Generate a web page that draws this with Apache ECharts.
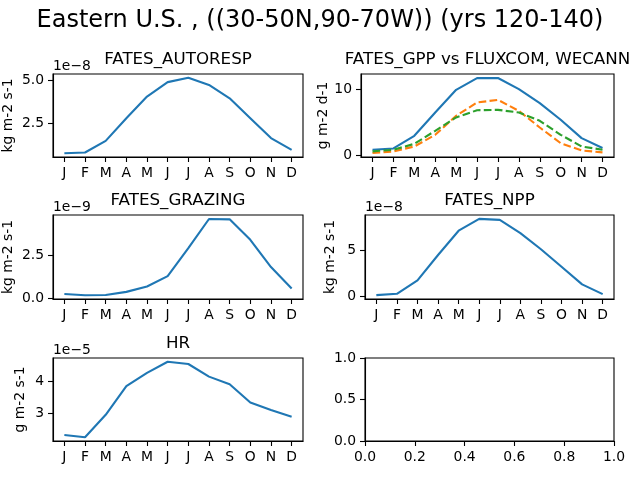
<!DOCTYPE html>
<html>
<head>
<meta charset="utf-8">
<script src="https://cdn.jsdelivr.net/npm/echarts@6/dist/echarts.min.js"></script>
<style>
  html, body { margin: 0; padding: 0; background: #fff; }
  #chart { width: 640px; height: 480px; }
</style>
</head>
<body>
<div id="chart"></div>
<script>
// monthly climatology, Eastern U.S.
const months = ['J', 'F', 'M', 'A', 'M', 'J', 'J', 'A', 'S', 'O', 'N', 'D'];

// FATES_AUTORESP (x 1e-8 kg m-2 s-1)
const autoresp = [0.77, 0.81, 1.48, 2.79, 4.04, 4.87, 5.12, 4.71, 3.94, 2.79, 1.64, 0.96];
const autorespTicks = [2.5, 5.0];

// GPP (g m-2 d-1)
const gppFates = [0.8, 1.0, 2.92, 6.45, 9.9, 11.67, 11.7, 10.0, 7.88, 5.35, 2.57, 1.06];
const gppFluxcom = [0.3, 0.55, 1.3, 3.07, 5.95, 7.97, 8.38, 6.7, 4.18, 1.8, 0.7, 0.4];
const gppWecann = [0.55, 0.8, 1.7, 3.68, 5.7, 6.8, 6.86, 6.45, 5.2, 3.07, 1.3, 0.8];
const gppTicks = [0, 10];

// FATES_GRAZING (x 1e-9 kg m-2 s-1)
const grazing = [0.27, 0.2, 0.21, 0.39, 0.7, 1.3, 2.91, 4.59, 4.57, 3.39, 1.82, 0.58];
const grazingTicks = [0.0, 2.5];

// FATES_NPP (x 1e-8 kg m-2 s-1)
const npp = [0.15, 0.3, 1.76, 4.52, 7.17, 8.46, 8.35, 6.91, 5.15, 3.24, 1.32, 0.26];
const nppTicks = [0, 5];

// HR (x 1e-5 g m-2 s-1)
const hr = [2.31, 2.24, 2.95, 3.86, 4.28, 4.63, 4.56, 4.16, 3.92, 3.34, 3.1, 2.89];
const hrTicks = [3, 4];

// empty panel
const emptyTicksY = [0.0, 0.5, 1.0];
const emptyTicksX = [0.0, 0.2, 0.4, 0.6, 0.8, 1.0];

const FONT = 'DejaVu Sans';
const TICK = 13.9;
const BLUE = '#1f77b4', ORANGE = '#ff7f0e', GREEN = '#2ca02c';

const monthIdx = months.map((m, i) => i);
const pairs = arr => arr.map((v, i) => [i, v]);

const grids = [
    {left: 53, top: 74, width: 250, height: 83},
    {left: 361, top: 74, width: 253, height: 83},
    {left: 53, top: 215, width: 250, height: 84},
    {left: 365, top: 215, width: 249, height: 84},
    {left: 53, top: 358, width: 250, height: 83},
    {left: 365, top: 358, width: 249, height: 83}
];

const tickStyle = {show: true, inside: false, length: 5, lineStyle: {color: '#000', width: 1.1}};
const lineStyle = {show: true, onZero: false, lineStyle: {color: '#000', width: 1.1}};

function monthAxis(gi) {
    return {
        type: 'value', gridIndex: gi, min: -0.55, max: 11.55,
        splitLine: {show: false},
        axisLine: lineStyle,
        axisTick: Object.assign({customValues: monthIdx}, tickStyle),
        axisLabel: {
            customValues: monthIdx, margin: 9, color: '#000', fontFamily: FONT, fontSize: TICK,
            formatter: v => months[Math.round(v)]
        }
    };
}

function valAxis(gi, min, max, ticks, dec, name, gap) {
    return {
        type: 'value', gridIndex: gi, min: min, max: max,
        splitLine: {show: false},
        axisLine: lineStyle,
        axisTick: Object.assign({customValues: ticks}, tickStyle),
        axisLabel: {
            customValues: ticks, margin: 9, color: '#000', fontFamily: FONT, fontSize: TICK,
            formatter: v => v.toFixed(dec)
        },
        name: name, nameLocation: 'middle', nameRotate: 90, nameGap: gap,
        nameTextStyle: {color: '#000', fontFamily: FONT, fontSize: TICK}
    };
}

function line(gi, data, color, dashed) {
    return {
        type: 'line', xAxisIndex: gi, yAxisIndex: gi, data: pairs(data),
        showSymbol: false, smooth: false, silent: true,
        lineStyle: {color: color, width: 2.1, type: dashed ? [7.7, 3.3] : 'solid'}
    };
}

function text(str, x, y, size, align, valign) {
    return {
        type: 'text', silent: true,
        style: {text: str, x: x, y: y, fill: '#000', font: size + 'px "' + FONT + '"',
            align: align, verticalAlign: valign}
    };
}

const titles = ['FATES_AUTORESP', 'FATES_GPP vs FLUXCOM, WECANN', 'FATES_GRAZING', 'FATES_NPP', 'HR'];
const titleY = [60, 60, 201, 201, 344];
const exps = [[0, '1e\u22128'], [2, '1e\u22129'], [3, '1e\u22128'], [4, '1e\u22125']];

const graphic = [text('Eastern U.S. , ((30-50N,90-70W)) (yrs 120-140)', 320, 21, 24, 'center', 'middle')];
titles.forEach((t, i) => {
    const g = grids[i];
    graphic.push(text(t, g.left + g.width / 2, titleY[i], 16.7, 'center', 'middle'));
});
exps.forEach(([i, t]) => {
    graphic.push(text(t, grids[i].left, grids[i].top - 1, TICK, 'left', 'bottom'));
});

const chart = echarts.init(document.getElementById('chart'));
chart.setOption({
    animation: false,
    backgroundColor: '#fff',
    grid: grids.map(g => Object.assign({show: true, borderColor: '#000', borderWidth: 1.1, backgroundColor: 'transparent'}, g)),
    xAxis: [
        monthAxis(0), monthAxis(1), monthAxis(2), monthAxis(3), monthAxis(4),
        {
            type: 'value', gridIndex: 5, min: 0, max: 1,
            splitLine: {show: false}, axisLine: lineStyle,
            axisTick: Object.assign({customValues: emptyTicksX}, tickStyle),
            axisLabel: {customValues: emptyTicksX, margin: 9, color: '#000', fontFamily: FONT, fontSize: TICK,
                formatter: v => v.toFixed(1)}
        }
    ],
    yAxis: [
        valAxis(0, 0.55, 5.34, autorespTicks, 1, 'kg m-2 s-1', 38),
        valAxis(1, -0.3, 12.3, gppTicks, 0, 'g m-2 d-1', 30),
        valAxis(2, -0.02, 4.82, grazingTicks, 1, 'kg m-2 s-1', 38),
        valAxis(3, -0.27, 8.88, nppTicks, 0, 'kg m-2 s-1', 28),
        valAxis(4, 2.12, 4.75, hrTicks, 0, 'g m-2 s-1', 26),
        valAxis(5, 0, 1, emptyTicksY, 1, '', 30)
    ],
    series: [
        line(0, autoresp, BLUE, false),
        line(1, gppFates, BLUE, false),
        line(1, gppFluxcom, ORANGE, true),
        line(1, gppWecann, GREEN, true),
        line(2, grazing, BLUE, false),
        line(3, npp, BLUE, false),
        line(4, hr, BLUE, false)
    ],
    graphic: graphic
});
</script>
</body>
</html>
